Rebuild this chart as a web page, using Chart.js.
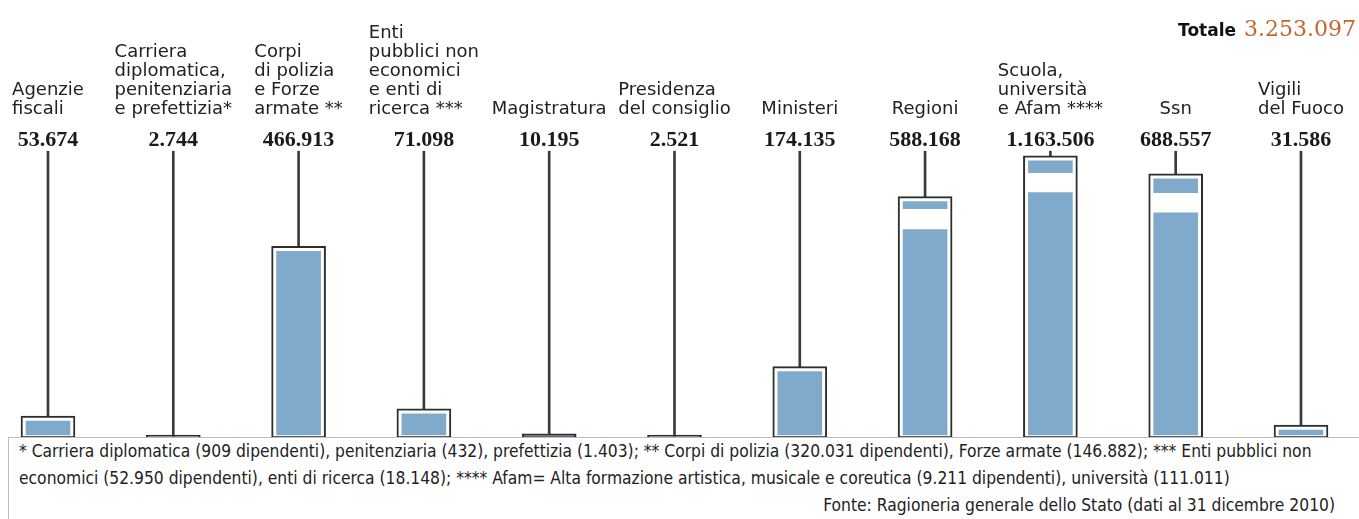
<!DOCTYPE html>
<html lang="it">
<head>
<meta charset="utf-8">
<title>Dipendenti pubblici per comparto</title>
<script src="https://cdn.jsdelivr.net/npm/chart.js@4/dist/chart.umd.min.js"></script>
<style>
  html, body { margin: 0; padding: 0; background: #fff; }
  #wrap { position: relative; width: 1359px; height: 519px; overflow: hidden; }
  #box { position: absolute; left: 0; top: 0; width: 1359px; height: 440px; }
  #note {
    position: absolute; left: 8px; top: 437px; width: 1360px; height: 100px;
    border: 1px solid #bdbdbd; background: #fff; box-sizing: border-box;
    font-family: "DejaVu Sans Condensed", "DejaVu Sans", sans-serif; font-stretch: condensed;
    font-size: 17.3px; color: #222; line-height: 27px; padding: 0 0 0 10px;
  }
  #note p { margin: 0; white-space: nowrap; }
  #note .src { text-align: right; padding-right: 32px; }
</style>
</head>
<body>
<div id="wrap">
  <div id="box"><canvas id="chart"></canvas></div>
  <div id="note">
    <p>* Carriera diplomatica (909 dipendenti), penitenziaria (432), prefettizia (1.403); ** Corpi di polizia (320.031 dipendenti), Forze armate (146.882); *** Enti pubblici non</p>
    <p>economici (52.950 dipendenti), enti di ricerca (18.148); **** Afam= Alta formazione artistica, musicale e coreutica (9.211 dipendenti), università (111.011)</p>
    <p class="src">Fonte: Ragioneria generale dello Stato (dati al 31 dicembre 2010)</p>
  </div>
</div>
<script>
// comparti, dipendenti al 31/12/2010
const categories = [
  ['Agenzie', 'fiscali'],
  ['Carriera', 'diplomatica,', 'penitenziaria', 'e prefettizia*'],
  ['Corpi', 'di polizia', 'e Forze', 'armate **'],
  ['Enti', 'pubblici non', 'economici', 'e enti di', 'ricerca ***'],
  ['Magistratura'],
  ['Presidenza', 'del consiglio'],
  ['Ministeri'],
  ['Regioni'],
  ['Scuola,', 'università', 'e Afam ****'],
  ['Ssn'],
  ['Vigili', 'del Fuoco'],
];
const employees = [53674, 2744, 466913, 71098, 10195, 2521, 174135, 588168, 1163506, 688557, 31586];
const total = 3253097;

// altezza disegnata in migliaia (scala interrotta per Scuola e Ssn)
const drawnHeight = [53.674, 2.744, 466.913, 71.098, 10.195, 2.521, 174.135, 588.168, 688, 644, 31.586];
const breakLow  = [null, null, null, null, null, null, null, 508, 598, 549, null];
const breakHigh = [null, null, null, null, null, null, null, 559, 647, 598, null];

const Y_MAX = 700;
const PLOT_H = 288;              // altezza area grafico in px
const U = Y_MAX / PLOT_H;        // migliaia per pixel
const PAD_TOP = 5 * U;
const PAD_BOTTOM = 3 * U;

const BLUE = '#80aacb';
const DARK = '#2e2e2e';

const fmt = n => String(n).replace(/\B(?=(\d{3})+(?!\d))/g, '.');

const hasInner = h => h - PAD_TOP > PAD_BOTTOM + 2 * U;

const innerLower = drawnHeight.map((h, i) => ({
  x: i,
  y: hasInner(h) ? [PAD_BOTTOM, breakLow[i] ?? h - PAD_TOP] : null,
}));
const innerUpper = drawnHeight.map((h, i) => ({
  x: i,
  y: breakHigh[i] != null ? [breakHigh[i], h - PAD_TOP] : null,
}));
const outer = drawnHeight.map((h, i) => ({ x: i, y: h }));
const leaders = drawnHeight.map((h, i) => ({ x: i, y: [h, Y_MAX] }));

const labelsPlugin = {
  id: 'labels',
  afterDraw(chart) {
    const { ctx, scales: { x } } = chart;
    ctx.save();
    ctx.font = '18px "DejaVu Sans"';
    ctx.fillStyle = '#222';
    ctx.textAlign = 'left';
    ctx.textBaseline = 'alphabetic';
    categories.forEach((lines, i) => {
      const cx = x.getPixelForValue(i);
      const w = Math.max(...lines.map(l => ctx.measureText(l).width));
      lines.forEach((line, j) => {
        ctx.fillText(line, cx - w / 2, 114 - (lines.length - 1 - j) * 19);
      });
    });

    // totale in alto a destra
    ctx.textAlign = 'right';
    ctx.font = '22px "DejaVu Serif"';
    ctx.fillStyle = '#c8652d';
    const tot = fmt(total);
    ctx.fillText(tot, 1356, 36);
    const tw = ctx.measureText(tot).width;
    ctx.font = 'bold 17px "DejaVu Sans"';
    ctx.fillStyle = '#111';
    ctx.fillText('Totale', 1356 - tw - 8, 36);
    ctx.restore();
  },
};

new Chart(document.getElementById('chart'), {
  type: 'bar',
  data: {
    datasets: [
      {
        label: 'interno',
        data: innerLower,
        backgroundColor: BLUE,
        barThickness: 44,
        grouped: false,
      },
      {
        label: 'interno sopra',
        data: innerUpper,
        backgroundColor: BLUE,
        barThickness: 44,
        grouped: false,
      },
      {
        label: 'dipendenti',
        data: outer,
        backgroundColor: ctx => (drawnHeight[ctx.dataIndex] < 20 ? '#6f90b4' : '#ffffff'),
        borderColor: DARK,
        borderWidth: 2,
        borderSkipped: false,
        barThickness: 54,
        minBarLength: 3,
        grouped: false,
      },
      {
        label: 'richiamo',
        data: leaders,
        backgroundColor: '#3a3a3a',
        barThickness: 2,
        grouped: false,
      },
    ],
  },
  options: {
    responsive: true,
    maintainAspectRatio: false,
    animation: false,
    layout: { padding: { top: 129, bottom: 2, left: 0, right: 0 } },
    plugins: {
      legend: { display: false },
      tooltip: { enabled: false },
    },
    scales: {
      x: {
        type: 'linear',
        position: 'top',
        min: -0.383,
        max: 10.463,
        offset: false,
        grid: { display: false, drawTicks: false },
        border: { display: false },
        afterBuildTicks: s => { s.ticks = categories.map((_, i) => ({ value: i })); },
        ticks: {
          autoSkip: false,
          maxRotation: 0,
          padding: 1,
          color: '#1a1a1a',
          font: { family: '"Liberation Serif"', size: 22, weight: 'bold', lineHeight: 0.9 },
          callback: v => fmt(employees[v]),
        },
      },
      y: {
        display: false,
        min: 0,
        max: Y_MAX,
      },
    },
  },
  plugins: [labelsPlugin],
});
</script>
</body>
</html>
